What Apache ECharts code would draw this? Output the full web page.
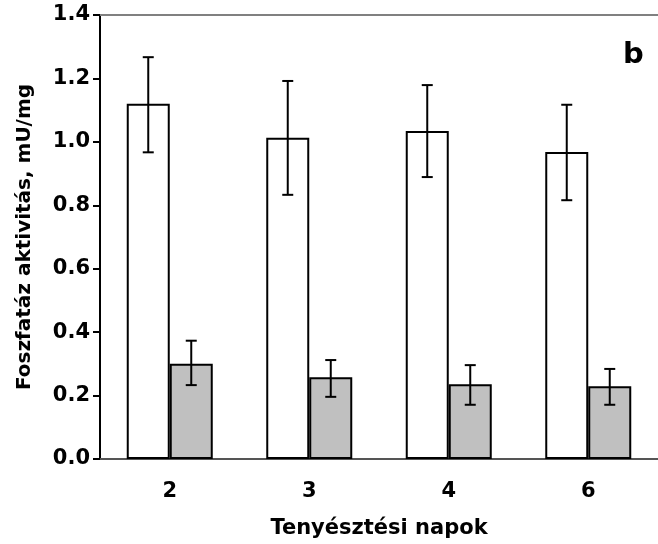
<!DOCTYPE html>
<html>
<head>
<meta charset="utf-8">
<script src="https://cdn.jsdelivr.net/npm/echarts@6/dist/echarts.min.js"></script>
<style>html,body{margin:0;padding:0;background:#fff}#c{width:658px;height:544px}</style>
</head>
<body>
<div id="c"></div>
<script>
var categories = ['2', '3', '4', '6'];
var whiteMeans = [1.12, 1.013, 1.034, 0.968];
var whiteUpper = [1.267, 1.192, 1.179, 1.117];
var whiteLower = [0.967, 0.833, 0.889, 0.816];
var greyMeans = [0.300, 0.258, 0.236, 0.229];
var greyUpper = [0.373, 0.312, 0.296, 0.284];
var greyLower = [0.233, 0.196, 0.171, 0.171];
var yTicks = [0, 0.2, 0.4, 0.6, 0.8, 1.0, 1.2, 1.4];

var FONT = '"DejaVu Sans", "Liberation Sans", Arial, sans-serif';
var BAR_W = 43;

function errData(lower, upper) {
  return categories.map(function (c, i) { return [i, lower[i], upper[i]]; });
}
function errSeries(lower, upper, offset) {
  return {
    type: 'custom',
    data: errData(lower, upper),
    z: 10,
    encode: { x: 0, y: [1, 2] },
    renderItem: function (params, api) {
      var i = api.value(0);
      var lo = api.coord([i, api.value(1)]);
      var hi = api.coord([i, api.value(2)]);
      var x = lo[0] + offset;
      var cap = 5.5;
      var st = { stroke: '#000', lineWidth: 2 };
      return {
        type: 'group',
        children: [
          { type: 'line', shape: { x1: x, y1: hi[1], x2: x, y2: lo[1] }, style: st },
          { type: 'line', shape: { x1: x - cap, y1: hi[1], x2: x + cap, y2: hi[1] }, style: st },
          { type: 'line', shape: { x1: x - cap, y1: lo[1], x2: x + cap, y2: lo[1] }, style: st }
        ]
      };
    }
  };
}

var chart = echarts.init(document.getElementById('c'));
chart.setOption({
  animation: false,
  backgroundColor: '#fff',
  grid: { left: 100, right: 0, top: 15, bottom: 85 },
  xAxis: [{
    type: 'category',
    data: categories,
    position: 'bottom',
    axisLine: { lineStyle: { color: '#555', width: 2 } },
    axisTick: { show: false },
    axisLabel: { color: '#000', fontFamily: FONT, fontWeight: 'bold', fontSize: 21, margin: 22 },
    name: 'Tenyésztési napok',
    nameLocation: 'middle',
    nameGap: 59,
    nameTextStyle: { color: '#000', fontFamily: FONT, fontWeight: 'bold', fontSize: 21 }
  }, {
    type: 'category',
    data: categories,
    position: 'top',
    axisLine: { show: true, lineStyle: { color: '#808080', width: 2 } },
    axisTick: { show: false },
    axisLabel: { show: false }
  }],
  yAxis: {
    type: 'value',
    min: 0,
    max: 1.4,
    interval: 0.2,
    axisLine: { show: true, onZero: false, lineStyle: { color: '#000', width: 2 } },
    axisTick: { show: true, length: 7, lineStyle: { color: '#000', width: 2 } },
    splitLine: { show: false },
    axisLabel: {
      color: '#000', fontFamily: FONT, fontWeight: 'bold', fontSize: 21, margin: 10,
      formatter: function (v) { return v.toFixed(1); }
    },
    name: 'Foszfatáz aktivitás, mU/mg',
    nameLocation: 'middle',
    nameGap: 65,
    nameTextStyle: { color: '#000', fontFamily: FONT, fontWeight: 'bold', fontSize: 20 }
  },
  graphic: [{
    type: 'text',
    left: 623,
    top: 41,
    style: { text: 'b', fill: '#000', font: 'bold 29px ' + FONT }
  }],
  series: [{
    type: 'bar',
    data: whiteMeans,
    barWidth: BAR_W,
    barGap: '0%',
    itemStyle: { color: '#fff', borderColor: '#000', borderWidth: 2 }
  }, {
    type: 'bar',
    data: greyMeans,
    barWidth: BAR_W,
    barGap: '0%',
    itemStyle: { color: '#c0c0c0', borderColor: '#000', borderWidth: 2 }
  },
  errSeries(whiteLower, whiteUpper, -BAR_W / 2),
  errSeries(greyLower, greyUpper, BAR_W / 2)
  ]
});
</script>
</body>
</html>
